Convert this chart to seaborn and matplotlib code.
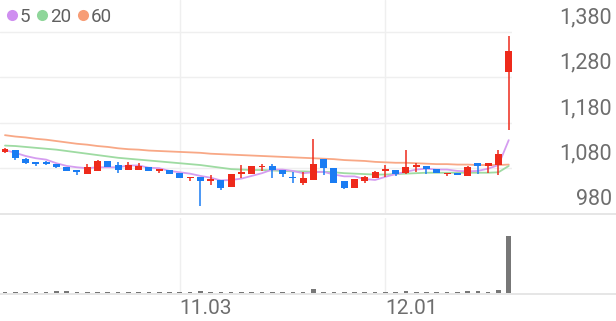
import matplotlib
matplotlib.use("Agg")
import matplotlib.pyplot as plt
import matplotlib.transforms as mtransforms
from matplotlib.lines import Line2D
import seaborn as sns
import pandas as pd
import numpy as np

sns.set_theme(style="white")
plt.rcParams['font.family'] = ['Roboto', 'DejaVu Sans']

# ---- data ----
opens  = [1114, 1119, 1099, 1093, 1092, 1088, 1082, 1076, 1066, 1073,
          1096, 1086, 1076, 1076, 1082, 1073, 1076, 1069, 1057, 1060,
          1051, 1052, 1037, 1067, 1066, 1081, 1083, 1075, 1060, 1046,
          1054, 1099, 1079, 1051, 1035, 1051, 1057, 1072, 1075, 1068,
          1081, 1084, 1077, 1066, 1069, 1062, 1091, 1084, 1087, 1292]
highs  = [1123, 1119, 1102, 1093, 1094, 1089, 1082, 1076, 1088, 1097,
          1096, 1092, 1093, 1090, 1082, 1076, 1076, 1069, 1060, 1060,
          1063, 1052, 1066, 1086, 1084, 1088, 1088, 1075, 1071, 1071,
          1143, 1099, 1079, 1051, 1055, 1062, 1073, 1085, 1075, 1119,
          1090, 1084, 1077, 1069, 1069, 1084, 1091, 1091, 1119, 1371]
lows   = [1112, 1097, 1088, 1084, 1087, 1080, 1072, 1064, 1066, 1073,
          1082, 1069, 1076, 1076, 1073, 1068, 1066, 1057, 1051, 995,
          1042, 1031, 1037, 1057, 1066, 1073, 1057, 1059, 1047, 1042,
          1052, 1064, 1046, 1034, 1035, 1047, 1057, 1060, 1062, 1067,
          1071, 1066, 1068, 1062, 1063, 1062, 1066, 1069, 1064, 1163]
closes = [1121, 1102, 1090, 1089, 1089, 1081, 1073, 1071, 1082, 1096,
          1082, 1076, 1087, 1084, 1073, 1076, 1067, 1058, 1060, 1051,
          1054, 1036, 1066, 1071, 1083, 1084, 1074, 1066, 1057, 1057,
          1088, 1079, 1046, 1035, 1055, 1060, 1071, 1077, 1066, 1082,
          1086, 1077, 1068, 1069, 1063, 1082, 1084, 1090, 1111, 1337]
ma5  = [1119, 1113, 1106, 1101, 1098, 1090, 1084, 1081, 1079, 1081,
        1081, 1081, 1085, 1085, 1080, 1079, 1073, 1070, 1067, 1062,
        1058, 1052, 1053, 1056, 1062, 1068, 1076, 1076, 1073, 1068,
        1070, 1071, 1065, 1061, 1061, 1055, 1053, 1060, 1066, 1071,
        1076, 1078, 1076, 1076, 1073, 1072, 1073, 1078, 1086, 1141]
ma20 = [1129, 1128, 1126, 1124, 1122, 1120, 1117, 1114, 1111, 1108,
        1105, 1102, 1100, 1098, 1096, 1094, 1092, 1090, 1088, 1086,
        1083, 1080, 1077, 1076, 1075, 1075, 1074, 1073, 1072, 1072,
        1071, 1071, 1070, 1068, 1067, 1066, 1065, 1065, 1066, 1067,
        1068, 1069, 1069, 1069, 1069, 1069, 1069, 1069, 1070, 1084]
ma60 = [1152, 1149, 1147, 1144, 1142, 1139, 1136, 1133, 1131, 1128,
        1126, 1123, 1121, 1120, 1118, 1117, 1116, 1115, 1114, 1113,
        1111, 1110, 1109, 1108, 1107, 1106, 1105, 1104, 1103, 1102,
        1101, 1100, 1099, 1097, 1096, 1095, 1093, 1092, 1091, 1091,
        1090, 1089, 1088, 1088, 1087, 1087, 1086, 1086, 1086, 1087]
volumes = [22, 25, 22, 22, 20, 35, 28, 22, 25, 22,
           20, 22, 22, 20, 20, 22, 22, 25, 22, 30,
           22, 22, 20, 22, 22, 20, 20, 22, 20, 22,
           75, 22, 20, 22, 20, 22, 20, 18, 25, 30,
           20, 22, 20, 20, 20, 28, 30, 20, 60, 1000]
xtick_pos = [17, 37]
xtick_labels = ["11.03", "12.01"]
ytick_vals = [980, 1080, 1180, 1280, 1380]
ma_labels = ["5", "20", "60"]

# ---- styles ----
UP = "#ee2a1b"
DOWN = "#1a7cf3"
MA_COLORS = ["#d59df0", "#9edba2", "#f8a886"]
LEG_COLORS = ["#cf8ff0", "#8fd69a", "#f79d76"]
GRID = "#efefef"
AXLINE = "#e2e2e2"
TXT = "#6e6e6e"

W, H = 616, 321
fig = plt.figure(figsize=(W / 100, H / 100), dpi=100)

plot_right = 512
ax = fig.add_axes([0, (H - 213) / H, plot_right / W, 213 / H])
axv = fig.add_axes([0, (H - 293) / H, plot_right / W, 75 / H], sharex=ax)

n = len(closes)
idx = np.arange(n)
df = pd.DataFrame({"i": idx, "open": opens, "high": highs, "low": lows,
                   "close": closes, "ma5": ma5, "ma20": ma20, "ma60": ma60,
                   "vol": volumes})

px_per_step = 10.28
xmin = -5 / px_per_step
xmax = (plot_right - 5) / px_per_step
ymin = 980
ymax = 980 + 213 / 0.4525

# grid
for v in ytick_vals[1:]:
    ax.axhline(v, color=GRID, lw=1, zorder=0)
for xp in xtick_pos:
    ax.axvline(xp, color=GRID, lw=1, zorder=0)
    axv.axvline(xp, color=GRID, lw=1, zorder=0)

# moving averages (drawn first, candles on top)
for col, c in zip(["ma60", "ma20", "ma5"], [MA_COLORS[2], MA_COLORS[1], MA_COLORS[0]]):
    sns.lineplot(data=df, x="i", y=col, ax=ax, color=c, lw=1.3, zorder=2,
                 legend=False)

# candles
colors = [UP if c >= o else DOWN for o, c in zip(opens, closes)]
ax.vlines(df["i"], df["low"], df["high"], colors=colors, lw=1.1, zorder=3)
bottoms = np.minimum(df["open"], df["close"])
heights = np.maximum(np.abs(df["close"] - df["open"]), 3.5)
ax.bar(df["i"], heights, bottom=bottoms, width=0.68, color=colors,
       linewidth=0, zorder=4)

# volume
axv.bar(df["i"], df["vol"], width=0.45, color="#777777", linewidth=0, zorder=3)
axv.set_ylim(0, max(volumes) / 0.76)

for a in (ax, axv):
    a.set_xlim(xmin, xmax)
    for s in a.spines.values():
        s.set_visible(False)
    a.set_xlabel("")
    a.set_ylabel("")
    a.set_yticks([])
    a.tick_params(length=0)
    a.set_facecolor("none")
ax.set_ylim(ymin, ymax)
ax.tick_params(labelbottom=False)
axv.set_xticks([])

# full-width baseline lines
fig.add_artist(Line2D([0, 1], [(H - 213.5) / H] * 2, transform=fig.transFigure,
                      color=AXLINE, lw=1.2))
fig.add_artist(Line2D([0, 1], [(H - 293.5) / H] * 2, transform=fig.transFigure,
                      color=AXLINE, lw=1.2))

# y labels on the right, above their grid lines
ytrans = mtransforms.blended_transform_factory(fig.transFigure, ax.transData)
yoff = mtransforms.ScaledTranslation(0, 14 / 100, fig.dpi_scale_trans)
for v in ytick_vals:
    ax.text(612 / W, v, f"{v:,}", transform=ytrans + yoff, ha="right",
            va="center", fontsize=15.5, color=TXT, clip_on=False)

# x labels, left-aligned at grid lines
xtrans = mtransforms.blended_transform_factory(axv.transData, fig.transFigure)
for xp, lab in zip(xtick_pos, xtick_labels):
    axv.text(xp, (H - 308) / H, lab, transform=xtrans, ha="left", va="center",
             fontsize=15, color=TXT, clip_on=False)

# legend
handles = [Line2D([], [], marker="o", linestyle="none", markersize=8,
                  markerfacecolor=c, markeredgecolor="none") for c in LEG_COLORS]
leg = ax.legend(handles, ma_labels, loc="upper left", bbox_to_anchor=(0, 1),
                bbox_transform=fig.transFigure, ncol=3, frameon=False,
                handlelength=0.5, handletextpad=0.15, columnspacing=0.4,
                borderaxespad=0.0, borderpad=0.4, fontsize=13.5)
for t in leg.get_texts():
    t.set_color("#606060")

fig.savefig("out.png", dpi=100)
